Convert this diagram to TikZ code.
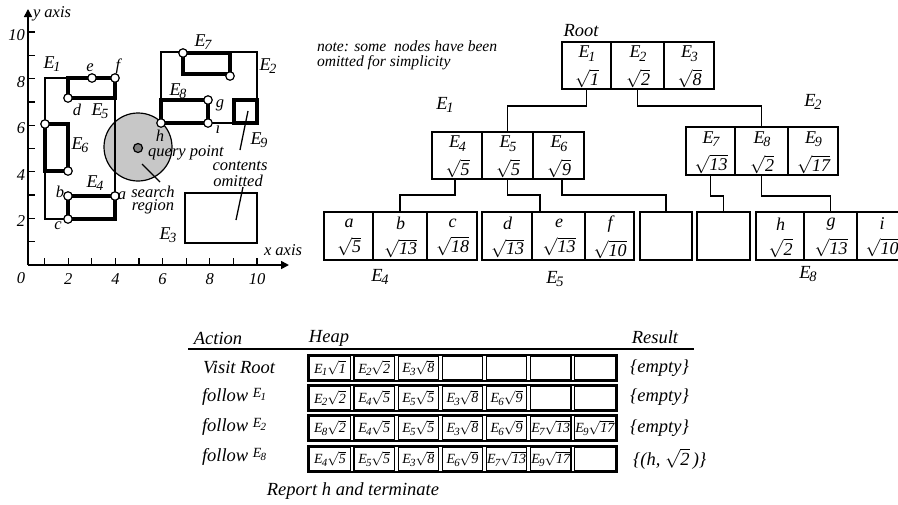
\documentclass[tikz,border=0pt]{standalone}
\usepackage{fix-cm}
\usepackage{fontspec}
\setmainfont{Liberation Serif}
\usetikzlibrary{arrows.meta}
\newcommand{\myfs}[1]{\fontsize{#1}{#1}\selectfont}
\newcommand{\Es}[1]{E\kern-0.06em\raisebox{-0.42ex}{\scalebox{0.78}{#1}}}
\newcommand{\rt}[1]{$\sqrt{\mbox{\itshape #1}}$}
\newcommand{\tcell}[7]{%
  \node[tbox, minimum width={#3-#2}, minimum height={#5-#4}] (#1) at ({(#2+#3)/2},{(#4+#5)/2}) {};
  \node[tlbl, align=center] (#1t) at ({(#2+#3)/2+0.5},{(#4+#5)/2+1.5}) {#6\\[7pt]#7};
}
\newcommand{\hrow}[4]{%
  \draw[line width=1.3pt] (308,#2) rectangle (617,#3);
  \foreach [count=\i] \t in {#4} {
    \node[hbox, minimum height={#3-#2-3.5}] (#1c\i) at ({308+44.14*(\i-0.5)},{(#2+#3)/2}) {\t};
  }
}
\begin{document}
\begin{tikzpicture}[x=1pt,y=-1pt,
  every node/.style={font=\itshape, inner sep=0pt, outer sep=0pt},
  thinln/.style={line width=1.3pt},
  boldln/.style={line width=4pt},
  pnt/.style={circle, draw, fill=white, line width=1.2pt, minimum size=8.5pt},
  plbl/.style={font=\itshape\myfs{16.5}},
  elbl/.style={font=\itshape\myfs{18}},
  tbox/.style={draw, line width=1.5pt, rectangle},
  tlbl/.style={font=\itshape\myfs{18}},
  conn/.style={line width=1.4pt},
  hbox/.style={draw, line width=1.1pt, rectangle, minimum width=40.5pt, font=\itshape\myfs{14}},
  tablbl/.style={font=\itshape\myfs{18.5}},
]
\fill[white] (0,0) rectangle (898,504);
\useasboundingbox (0,0) rectangle (898,504);

% ---------------- plot ----------------
\node[circle, draw, fill=black!22, line width=1.2pt, minimum size=68pt] (sr) at (138,147) {};
\node[circle, draw, fill=black!50, line width=1.2pt, minimum size=9pt] (qp) at (138,148) {};

\coordinate (O) at (28,265);
\coordinate (ytip) at (28,9);
\coordinate (xtip) at (289,265);
\draw[line width=1.6pt, -{Triangle[length=8pt,width=8pt]}] (O) -- (ytip);
\draw[line width=1.6pt, -{Triangle[length=8pt,width=8pt]}] (O) -- (xtip);
\foreach \k in {1,...,10} {
  \draw[thinln] (28,{265-23.3*\k}) -- ++(7,0);
  \draw[thinln] ({21+23.6*\k},265) -- ++(0,-7);
}
\foreach \k in {2,4,...,10} {
  \node[plbl, anchor=east] (yl\k) at (25,{268-23.3*\k}) {\k};
  \node[plbl] (xl\k) at ({21+23.6*\k},279) {\k};
}
\node[plbl] (x0) at (21,278) {0};
\node[plbl, anchor=west] (yax) at (33,14) {y axis};
\node[plbl, anchor=west] (xax) at (264,250) {x axis};

% thin MBRs
\draw[thinln] (45,78) rectangle (115,219);
\draw[thinln] (161,52) rectangle (257,123);
\draw[thinln] (185,193) rectangle (257,243);
% thick MBRs
\draw[boldln] (68,78) rectangle (115,98);
\draw[boldln] (45,124) rectangle (68,171);
\draw[boldln] (68,196) rectangle (115,219);
\draw[boldln] (183,53) rectangle (230,74);
\draw[boldln] (161,100) rectangle (208,123);
\draw[boldln] (234,100) rectangle (257,123);

% points
\node[pnt] (pd) at (68,98) {};
\node[pnt] (pe) at (92,78) {};
\node[pnt] (pf) at (115,78) {};
\node[pnt] (p6a) at (45,124) {};
\node[pnt] (p6b) at (68,171) {};
\node[pnt] (pb) at (68,196) {};
\node[pnt] (pa) at (115,196) {};
\node[pnt] (pc) at (68,219) {};
\node[pnt] (p7a) at (183,53) {};
\node[pnt] (p7b) at (230,76) {};
\node[pnt] (pg) at (208,100) {};
\node[pnt] (pi) at (208,123) {};
\node[pnt] (ph) at (161,123) {};

% pointer lines
\coordinate (q1) at (142,164); \coordinate (q2) at (160,182);
\draw[thinln] (q1) -- (q2);
\coordinate (n9a) at (248,111); \coordinate (n9b) at (240,150);
\draw[thinln] (n9a) -- (n9b);
\coordinate (n3a) at (243,187); \coordinate (n3b) at (236,220);
\draw[thinln] (n3a) -- (n3b);

% plot labels
\node[elbl] (lE1) at (52,64) {\Es{1}};
\node[elbl] (lE5) at (100,111) {\Es{5}};
\node[elbl] (lE6) at (80,145) {\Es{6}};
\node[elbl] (lE4) at (95,183) {\Es{4}};
\node[elbl] (lE7) at (203,42) {\Es{7}};
\node[elbl] (lE2) at (268,66) {\Es{2}};
\node[elbl] (lE8) at (178,91) {\Es{8}};
\node[elbl] (lE9) at (259,140) {\Es{9}};
\node[elbl] (lE3) at (168,235) {\Es{3}};
\node[plbl] (le) at (90,68) {e};
\node[plbl] (lf) at (118,66) {f};
\node[plbl] (ld) at (77,110) {d};
\node[plbl] (lb) at (60,192) {b};
\node[plbl] (la) at (122,196) {a};
\node[plbl] (lc) at (58,226) {c};
\node[plbl] (lg) at (220,105) {g};
\node[plbl] (li) at (218,128) {i};
\node[plbl] (lh) at (160,136) {h};
\node[plbl] (lqp) at (186,153) {query point};
\node[plbl] (ls1) at (153,192) {search};
\node[plbl] (ls2) at (153,207) {region};
\node[plbl] (lc1) at (240,166) {contents};
\node[plbl] (lc2) at (238,181) {omitted};

% note
\node[plbl, anchor=west, font=\itshape\myfs{15.6}] (note1) at (317,46) {note: some\ \ nodes have been};
\node[plbl, anchor=west, font=\itshape\myfs{15.6}] (note2) at (317,63) {omitted for simplicity};

% ---------------- tree ----------------
\node[tlbl, font=\itshape\myfs{18.5}] (lroot) at (581,31) {Root};
\tcell{r1}{562}{611}{42}{89}{\Es{1}}{\rt{1}}
\tcell{r2}{611}{664}{42}{89}{\Es{2}}{\rt{2}}
\tcell{r3}{664}{714}{42}{89}{\Es{3}}{\rt{8}}

\node[tlbl, font=\itshape\myfs{18.5}] (ln1) at (445,105) {\Es{1}};
\tcell{m4}{432}{482}{132}{179}{\Es{4}}{\rt{5}}
\tcell{m5}{482}{533}{132}{179}{\Es{5}}{\rt{5}}
\tcell{m6}{533}{584}{132}{179}{\Es{6}}{\rt{9}}

\node[tlbl, font=\itshape\myfs{18.5}] (ln2) at (813,102) {\Es{2}};
\tcell{m7}{686}{735}{127}{175}{\Es{7}}{\rt{13}}
\tcell{m8}{735}{788}{127}{175}{\Es{8}}{\rt{2}}
\tcell{m9}{788}{838}{127}{175}{\Es{9}}{\rt{17}}

\tcell{la}{324}{373}{212}{260}{a}{\rt{5}}
\tcell{lb}{373}{427}{212}{260}{b}{\rt{13}}
\tcell{lc}{427}{477}{212}{260}{c}{\rt{18}}
\tcell{ld}{482}{532}{212}{260}{d}{\rt{13}}
\tcell{le}{532}{585}{212}{260}{e}{\rt{13}}
\tcell{lf}{585}{634}{212}{260}{f}{\rt{10}}
\tcell{x1}{640}{692}{212}{260}{}{}
\tcell{x2}{697}{750}{212}{260}{}{}
\tcell{lh}{756}{804}{212}{260}{h}{\rt{2}}
\tcell{lg}{804}{857}{212}{260}{g}{\rt{13}}
\tcell{li}{857}{906}{212}{260}{i}{\rt{10}}

\node[tlbl, font=\itshape\myfs{18.5}] (ln4) at (380,277) {\Es{4}};
\node[tlbl, font=\itshape\myfs{18.5}] (ln5) at (555,279) {\Es{5}};
\node[tlbl, font=\itshape\myfs{18.5}] (ln8) at (808,274) {\Es{8}};

\draw[conn] (r1.south) -- ++(0,17) -| (m5.north);
\draw[conn] (r2.south) -- ++(0,17) -| (m8.north);
\draw[conn] ([xshift=-2pt]m4.south) -- ++(0,16) -| (lb.north);
\draw[conn] (m5.south) -- ++(0,16) -| ([xshift=-18.5pt]le.north);
\draw[conn] ([xshift=3.5pt]m6.south) -- ++(0,16) -| (x1.north);
\draw[conn] (m7.south) -- ++(0,21) -| (x2.north);
\draw[conn] (m8.south) -- ++(0,21) -| (lg.north);

% ---------------- table ----------------
\node[tablbl] (hA) at (218,338) {Action};
\node[tablbl] (hH) at (329,338) {Heap};
\node[tablbl] (hR) at (655,337) {Result};
\coordinate (rl) at (188,349); \coordinate (rr) at (694,349);
\draw[line width=1.5pt] (rl) -- (rr);

\hrow{ra}{355}{381}{{\Es{1}\rt{1}},{\Es{2}\rt{2}},{\Es{3}\rt{8}},{},{},{},{}}
\hrow{rb}{385}{411}{{\Es{2}\rt{2}},{\Es{4}\rt{5}},{\Es{5}\rt{5}},{\Es{3}\rt{8}},{\Es{6}\rt{9}},{},{}}
\hrow{rc}{415}{441}{{\Es{8}\rt{2}},{\Es{4}\rt{5}},{\Es{5}\rt{5}},{\Es{3}\rt{8}},{\Es{6}\rt{9}},{\Es{7}\rt{13}},{\Es{9}\rt{17}}}
\hrow{rd}{446}{472}{{\Es{4}\rt{5}},{\Es{5}\rt{5}},{\Es{3}\rt{8}},{\Es{6}\rt{9}},{\Es{7}\rt{13}},{\Es{9}\rt{17}},{}}

\node[tablbl, anchor=west] (a1) at (203,368) {Visit Root};
\node[tablbl, anchor=west] (a2) at (202,397) {follow \raisebox{0.5ex}{\myfs{14}\Es{1}}};
\node[tablbl, anchor=west] (a3) at (202,427) {follow \raisebox{0.5ex}{\myfs{14}\Es{2}}};
\node[tablbl, anchor=west] (a4) at (202,457) {follow \raisebox{0.5ex}{\myfs{14}\Es{8}}};

\node[tablbl, anchor=west] (s1) at (630,368) {\{empty\}};
\node[tablbl, anchor=west] (s2) at (630,397) {\{empty\}};
\node[tablbl, anchor=west] (s3) at (630,428) {\{empty\}};
\node[tablbl, anchor=west] (s4) at (633,459) {\{(h, \rt{2}\,)\}};

\node[tablbl] (rep) at (353,491) {Report h and terminate};
\end{tikzpicture}
\end{document}
